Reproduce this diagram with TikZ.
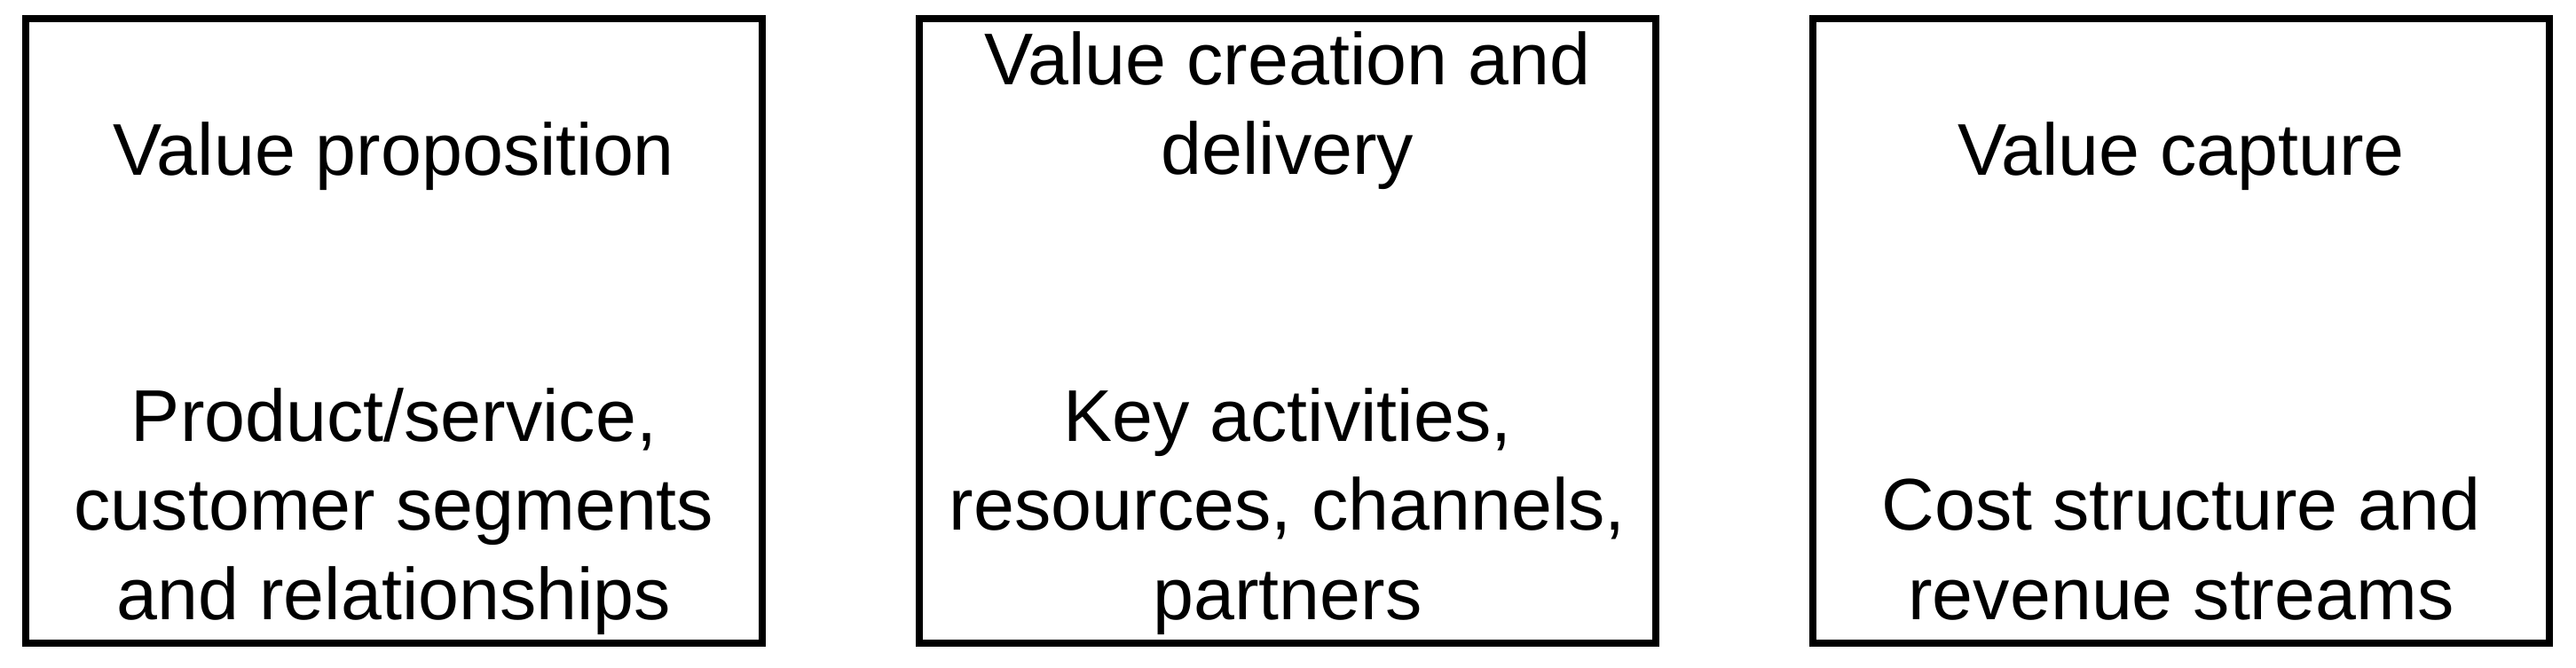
\documentclass[tikz,border=0pt]{standalone}
\usepackage{fontspec}
\setmainfont{Liberation Sans}
\usetikzlibrary{positioning}

\begin{document}
\begin{tikzpicture}[
  every node/.style={font=\fontsize{23.5}{28.5}\selectfont},
  block/.style={rectangle, draw, line width=0.8mm, minimum width=8.3cm, minimum height=7.04cm, inner sep=0pt},
  celltext/.style={align=center, anchor=base, inner sep=0pt},
]
\useasboundingbox (0,0) rectangle (29.03,7.52);

% Boxes
\node[block] (vp) at (4.44, 3.79) {};
\node[block, right=1.69cm of vp] (vcd) {};
\node[block, right=1.69cm of vcd] (vc) {};

% Headings (last line on a common baseline)
\node[celltext] (vpHead) at (vp |- 0,5.55) {Value proposition};
\node[celltext] (vcdHead) at (vcd |- 0,5.56) {Value creation and\\delivery};
\node[celltext] (vcHead) at (vc |- 0,5.55) {Value capture};

% Contents
\node[celltext] (vpBody) at (vp |- 0,0.54) {Product/service,\\customer segments\\and relationships};
\node[celltext] (vcdBody) at (vcd |- 0,0.54) {Key activities,\\resources, channels,\\partners};
\node[celltext] (vcBody) at (vc |- 0,0.54) {Cost structure and\\revenue streams};

\end{tikzpicture}
\end{document}
